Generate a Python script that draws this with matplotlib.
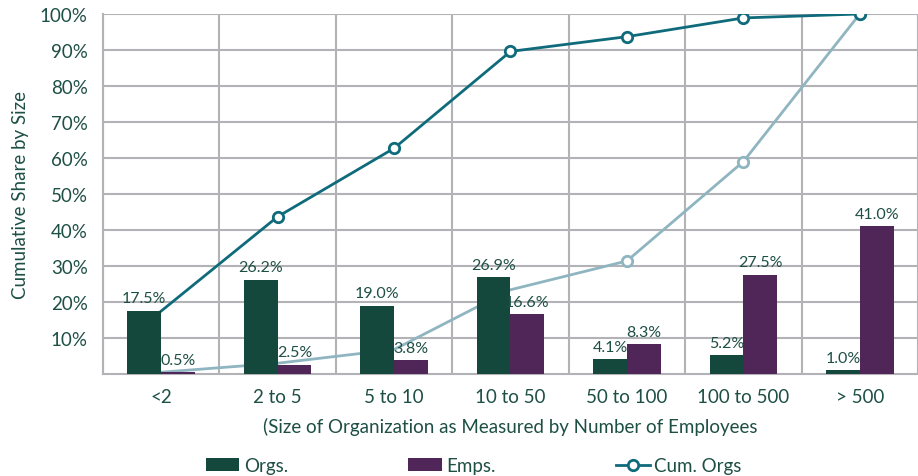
import numpy as np
import matplotlib
matplotlib.use('Agg')
import matplotlib.pyplot as plt
from matplotlib.ticker import FixedLocator

# Data
categories = ['<2', '2 to 5', '5 to 10', '10 to 50', '50 to 100', '100 to 500', '> 500']
orgs = [17.5, 26.2, 19.0, 26.9, 4.1, 5.2, 1.0]
emps = [0.5, 2.5, 3.8, 16.6, 8.3, 27.5, 41.0]
cum_orgs = [17.5, 43.7, 62.7, 89.6, 93.7, 98.9, 100.0]
cum_emps = [0.5, 3.0, 6.8, 23.4, 31.4, 59.0, 100.0]
y_ticks = [10, 20, 30, 40, 50, 60, 70, 80, 90, 100]

text_col = '#1e4f45'
org_col = '#15483c'
emp_col = '#502658'
cum_col = '#0f6b7b'
cum_emp_col = '#8fb5c1'
grid_col = '#b3b3b7'

plt.rcParams['font.family'] = ['Lato', 'DejaVu Sans']

fig = plt.figure(figsize=(9.18, 4.77), dpi=100)
ax = fig.add_axes([0.1122, 0.2138, 0.8878, 0.7548])

x = np.arange(len(categories))
w = 0.29

# lines sit behind the bars; markers only where they show in the original
ax.plot(x, cum_emps, color=cum_emp_col, lw=2, marker='o', ms=7.5, mfc='white',
        mew=2, zorder=2, markevery=[4, 5, 6])
ax.plot(x, cum_orgs, color=cum_col, lw=2, marker='o', ms=7.5, mfc='white',
        mew=2, zorder=2, markevery=[1, 2, 3, 4, 5, 6], label='Cum. Orgs')

b1 = ax.bar(x - w / 2, orgs, w, color=org_col, zorder=3, label='Orgs.')
b2 = ax.bar(x + w / 2, emps, w, color=emp_col, zorder=3, label='Emps.')

for bars, vals in ((b1, orgs), (b2, emps)):
    for b, v in zip(bars, vals):
        ax.annotate(f'{v:.1f}%', (b.get_x() + b.get_width() / 2, v),
                    xytext=(0, 4), textcoords='offset points', ha='center',
                    va='bottom', fontsize=11.5, color=text_col, zorder=4)

ax.set_xlim(-0.5, len(categories) - 0.5)
ax.set_ylim(0, 100)
ax.set_xticks(x)
ax.set_xticklabels(categories)
ax.set_yticks(y_ticks)
ax.set_yticklabels([f'{t}%' for t in y_ticks])
ax.xaxis.set_minor_locator(FixedLocator(np.arange(-0.5, len(categories), 1)))
ax.tick_params(axis='both', which='both', length=0, labelsize=13.5,
               colors=text_col)
ax.tick_params(axis='x', pad=10)
ax.tick_params(axis='y', pad=11)
ax.grid(axis='y', which='major', color=grid_col, lw=1.5, zorder=0)
ax.grid(axis='x', which='minor', color=grid_col, lw=1.5, zorder=0)
ax.set_axisbelow(True)
for s in ax.spines.values():
    s.set_color(grid_col)
    s.set_linewidth(1.5)
ax.spines['right'].set_visible(False)
ax.spines['top'].set_visible(False)

ax.set_ylabel('Cumulative Share by Size', fontsize=13.5, color=text_col, labelpad=8)
ax.set_xlabel('(Size of Organization as Measured by Number of Employees',
              fontsize=13.5, color=text_col, labelpad=9)

handles, labels = ax.get_legend_handles_labels()
order = [1, 2, 0]
fig.legend([handles[i] for i in order], [labels[i] for i in order],
           loc='lower center', bbox_to_anchor=(0.516, -0.032), ncol=3,
           frameon=False, fontsize=13.5, handlelength=1.8, columnspacing=6.4,
           handletextpad=0.25, labelcolor=text_col)

fig.savefig('out.png', dpi=100)
